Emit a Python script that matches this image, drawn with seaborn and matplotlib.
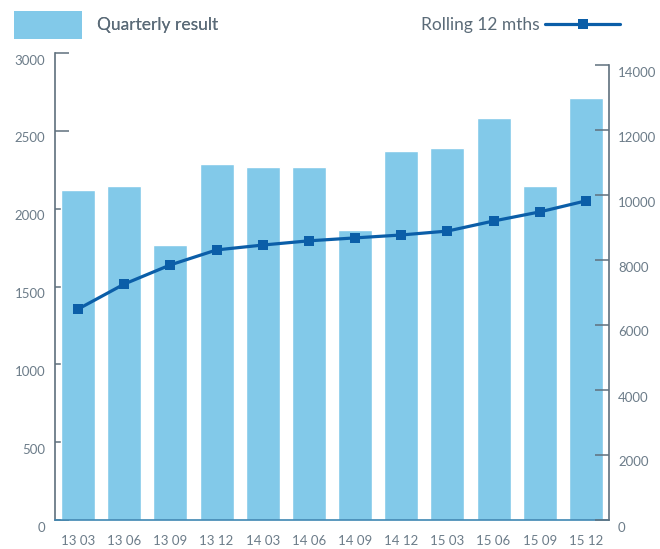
import matplotlib
matplotlib.use("Agg")
import matplotlib.pyplot as plt
import matplotlib.transforms as mtransforms
from matplotlib.patches import Patch
from matplotlib.lines import Line2D
from matplotlib.ticker import FixedLocator
import seaborn as sns
import numpy as np
import pandas as pd

# datos
quarters = ["13 03", "13 06", "13 09", "13 12", "14 03", "14 06",
            "14 09", "14 12", "15 03", "15 06", "15 09", "15 12"]
quarterly_result = [2120, 2145, 1765, 2285, 2270, 2270,
                    1865, 2370, 2390, 2580, 2145, 2710]
rolling_12m = [6490, 7260, 7850, 8310, 8460, 8590,
               8680, 8770, 8890, 9200, 9480, 9820]

bar_color = "#82c9e9"
line_color = "#0b5ea8"
grey = "#5f707d"
label_grey = "#6c7c89"

sns.set_style("white")
plt.rcParams['font.family'] = ['Lato', 'DejaVu Sans']

df = pd.DataFrame({"quarter": quarters, "result": quarterly_result,
                   "rolling": rolling_12m})

fig = plt.figure(figsize=(6.6, 5.49), dpi=100)
ax = fig.add_axes([55/660, 1 - 520/549, (609-55)/660, (520-53)/549])

sns.barplot(data=df, x="quarter", y="result", color=bar_color,
            saturation=1, width=0.74, ax=ax)
ax.set_xlim(-0.5, len(quarters) - 0.5)
ax.set_ylim(0, 3000)
ax.set_yticks(np.arange(0, 3001, 500))
ax.set_xlabel("")
ax.set_ylabel("")

ax2 = ax.twinx()
sns.lineplot(x=np.arange(len(quarters)), y=df["rolling"], color=line_color,
             linewidth=2.3, marker="s", markersize=7, markeredgewidth=0,
             ax=ax2)
ax2.set_ylim(0, 14000 * 467 / 455)
ax2.set_yticks(np.arange(0, 14001, 2000))
ax2.set_ylabel("")

# ejes y espinas
ax.spines["top"].set_visible(False)
ax2.spines["top"].set_visible(False)
ax.spines["right"].set_visible(False)
ax2.spines["left"].set_visible(False)
ax2.spines["bottom"].set_visible(False)
ax.spines["left"].set_color(grey)
ax.spines["left"].set_linewidth(1.2)
ax2.spines["right"].set_color(grey)
ax2.spines["right"].set_linewidth(1.2)
ax2.spines["right"].set_bounds(0, 14000)
ax.spines["bottom"].set_color("#3f87b3")
ax.spines["bottom"].set_linewidth(1.2)

ax.tick_params(axis="y", direction="in", length=10, width=1.1, color=grey,
               labelsize=9.5, labelcolor=label_grey, pad=7)
ax2.tick_params(axis="y", direction="in", length=10, width=1.1, color=grey,
                labelsize=9.5, labelcolor=label_grey, pad=6.5)
ax.tick_params(axis="x", which="major", length=0, labelsize=9.5,
               labelcolor=label_grey, pad=11)
ax.xaxis.set_minor_locator(FixedLocator(np.arange(0.5, len(quarters) - 1, 1)))
ax.tick_params(axis="x", which="minor", direction="in", length=3.8,
               width=1.1, color=grey)

# etiquetas un poco por debajo de las marcas
shift = mtransforms.ScaledTranslation(0, -0.065, fig.dpi_scale_trans)
for lab in ax.get_yticklabels() + ax2.get_yticklabels():
    lab.set_transform(lab.get_transform() + shift)

# leyendas arriba
h1 = [Patch(facecolor=bar_color, edgecolor="none")]
leg1 = fig.legend(handles=h1, labels=["Quarterly result"], loc="center left",
                  bbox_to_anchor=(-0.003, 1 - 25/549), frameon=False,
                  fontsize=12.5, handlelength=3.95, handleheight=2.05,
                  handletextpad=0.85, labelcolor="#5b6b78")
h2 = [Line2D([0], [0], color=line_color, linewidth=2.3, marker="s",
             markersize=7, markeredgewidth=0)]
leg2 = fig.legend(handles=h2, labels=["Rolling 12 mths"], loc="center right",
                  bbox_to_anchor=(0.963, 1 - 25/549), frameon=False,
                  fontsize=12.5, handlelength=4.3, markerfirst=False,
                  handletextpad=0.35, labelcolor="#5b6b78")
fig.add_artist(leg1)

fig.savefig("out.png", dpi=100)
